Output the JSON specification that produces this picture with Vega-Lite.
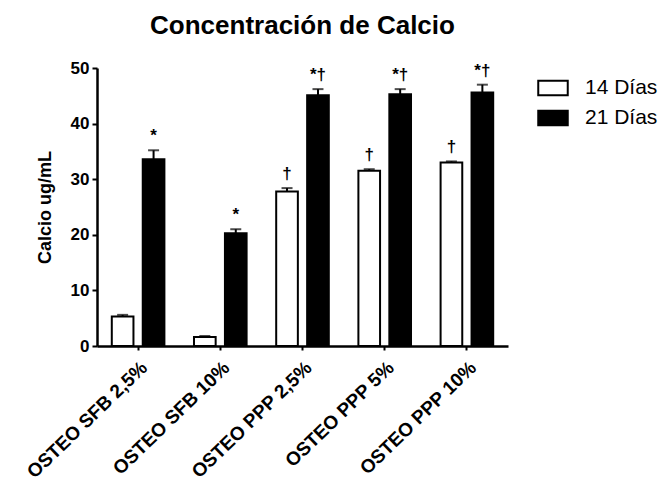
{
  "$schema": "https://vega.github.io/schema/vega-lite/v6.json",
  "autosize": "none",
  "width": 411,
  "height": 278,
  "padding": {"left": 97, "top": 68, "right": 155, "bottom": 141},
  "background": "white",
  "title": {"text": "Concentración de Calcio", "font": "Liberation Sans", "fontSize": 26, "fontWeight": "bold", "color": "black", "offset": 20},
  "config": {
    "view": {"stroke": null},
    "font": "Liberation Sans",
    "axis": {"domainColor": "black", "domainWidth": 2.5, "tickColor": "black", "tickWidth": 2, "labelColor": "black", "titleColor": "black", "grid": false, "labelFont": "Liberation Sans", "titleFont": "Liberation Sans"}
  },
  "data": {"values": [
    {"grupo": "OSTEO SFB 2,5%", "dias": "14 Días", "valor": 5.3, "alto": 5.6, "marca": ""},
    {"grupo": "OSTEO SFB 2,5%", "dias": "21 Días", "valor": 33.6, "alto": 35.2, "marca": "*"},
    {"grupo": "OSTEO SFB 10%", "dias": "14 Días", "valor": 1.6, "alto": 1.8, "marca": ""},
    {"grupo": "OSTEO SFB 10%", "dias": "21 Días", "valor": 20.3, "alto": 21.0, "marca": "*"},
    {"grupo": "OSTEO PPP 2,5%", "dias": "14 Días", "valor": 27.8, "alto": 28.4, "marca": "†"},
    {"grupo": "OSTEO PPP 2,5%", "dias": "21 Días", "valor": 45.1, "alto": 46.2, "marca": "*†"},
    {"grupo": "OSTEO PPP 5%", "dias": "14 Días", "valor": 31.5, "alto": 31.8, "marca": "†"},
    {"grupo": "OSTEO PPP 5%", "dias": "21 Días", "valor": 45.3, "alto": 46.2, "marca": "*†"},
    {"grupo": "OSTEO PPP 10%", "dias": "14 Días", "valor": 33.0, "alto": 33.2, "marca": "†"},
    {"grupo": "OSTEO PPP 10%", "dias": "21 Días", "valor": 45.6, "alto": 47.0, "marca": "*†"}
  ]},
  "encoding": {
    "x": {"field": "grupo", "type": "nominal", "sort": null,
      "scale": {"paddingInner": 0.36, "paddingOuter": 0.18},
      "axis": {"title": null, "labelAngle": -44, "labelFontSize": 19, "labelFontWeight": "bold", "tickSize": 4, "labelPadding": 8}},
    "xOffset": {"field": "dias", "type": "nominal", "scale": {"paddingInner": 0.3, "paddingOuter": 0}}
  },
  "layer": [
    {
      "mark": {"type": "bar", "stroke": "black", "strokeWidth": 2},
      "encoding": {
        "y": {"field": "valor", "type": "quantitative", "scale": {"domain": [0, 50]},
          "axis": {"title": "Calcio ug/mL", "titleFontSize": 18, "titleFontWeight": "bold", "labelFontSize": 17, "labelFontWeight": "bold", "values": [0, 10, 20, 30, 40, 50], "labelOverlap": false, "tickSize": 5, "labelPadding": 3, "titlePadding": 16}},
        "fill": {"field": "dias", "type": "nominal",
          "scale": {"domain": ["14 Días", "21 Días"], "range": ["white", "black"]},
          "legend": {"title": null, "orient": "none", "legendX": 440, "legendY": 4, "labelFontSize": 21, "labelColor": "black", "symbolType": "M-1,-0.5H1V0.5H-1Z", "symbolSize": 870, "symbolStrokeColor": "black", "symbolStrokeWidth": 2, "rowPadding": 2, "labelOffset": 16}}
      }
    },
    {
      "mark": {"type": "rule", "color": "black", "strokeWidth": 2},
      "encoding": {"y": {"field": "valor", "type": "quantitative"}, "y2": {"field": "alto"}}
    },
    {
      "mark": {"type": "tick", "color": "black", "thickness": 2, "size": 11},
      "encoding": {"y": {"field": "alto", "type": "quantitative"}}
    },
    {
      "mark": {"type": "text", "color": "black", "fontSize": 17, "fontWeight": "bold", "baseline": "bottom", "dy": -5},
      "encoding": {"y": {"field": "alto", "type": "quantitative"}, "text": {"field": "marca"}}
    }
  ]
}
